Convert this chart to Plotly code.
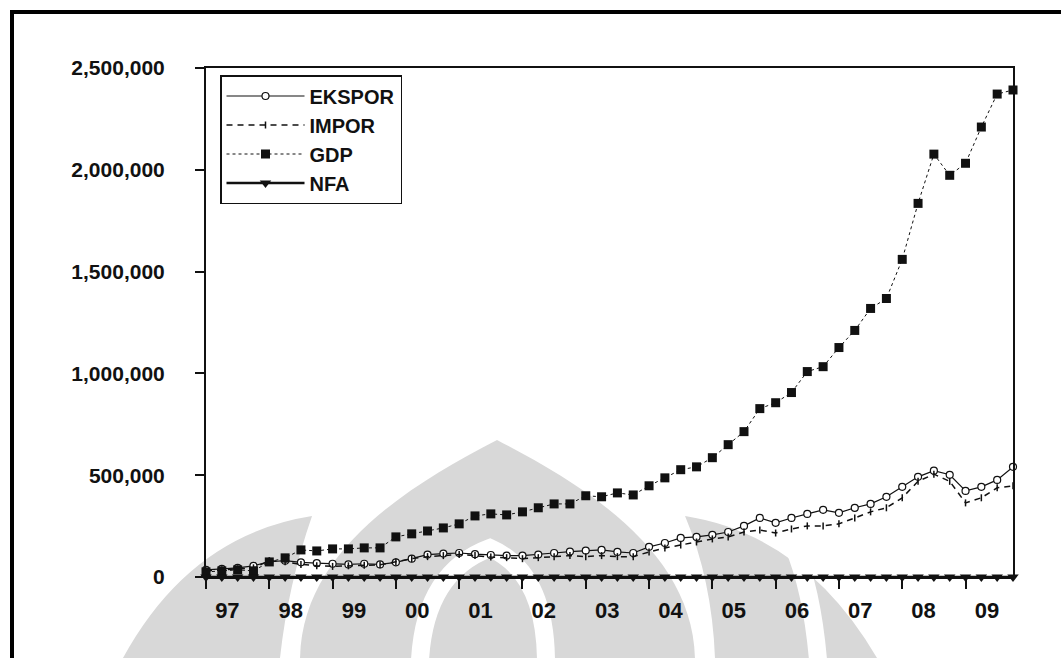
import plotly.graph_objects as go

# ---------------- data (quarterly, 1997Q1 .. 2009Q4) ----------------
years = ["97", "98", "99", "00", "01", "02", "03", "04", "05", "06", "07", "08", "09"]
quarters = list(range(52))

ekspor = [35000, 40000, 45000, 55000,
          75000, 80000, 72000, 68000,
          65000, 62000, 65000, 62000,
          72000, 90000, 110000, 115000,
          118000, 112000, 108000, 105000,
          105000, 110000, 118000, 125000,
          130000, 133000, 123000, 118000,
          148000, 167000, 192000, 197000,
          207000, 221000, 251000, 290000,
          266000, 290000, 310000, 330000,
          315000, 340000, 359000, 394000,
          443000, 492000, 522000, 502000,
          423000, 443000, 477000, 541000]

impor = [30000, 35000, 40000, 45000,
         80000, 75000, 62000, 55000,
         52000, 55000, 58000, 60000,
         75000, 90000, 100000, 105000,
         110000, 105000, 98000, 95000,
         90000, 95000, 100000, 105000,
         100000, 105000, 100000, 100000,
         123000, 143000, 157000, 172000,
         187000, 197000, 221000, 231000,
         216000, 236000, 251000, 251000,
         261000, 290000, 320000, 340000,
         389000, 470000, 505000, 470000,
         364000, 389000, 438000, 448000]

gdp = [25000, 30000, 35000, 30000,
       74000, 94000, 133000, 128000,
       138000, 138000, 143000, 143000,
       197000, 212000, 226000, 241000,
       261000, 300000, 310000, 305000,
       320000, 340000, 359000, 359000,
       399000, 394000, 413000, 403000,
       448000, 487000, 527000, 541000,
       586000, 650000, 714000, 827000,
       856000, 906000, 1009000, 1033000,
       1127000, 1211000, 1319000, 1368000,
       1560000, 1835000, 2077000, 1973000,
       2032000, 2210000, 2372000, 2392000]

nfa = [0, 0, 0, 0, 0, 0, 0, 0, 0, 0, 0, 0, 0,
       0, 0, 0, 0, 0, 0, 0, 0, 0, 0, 0, 0, 0,
       0, 0, 0, 0, 0, 0, 0, 0, 0, 0, 0, 0, 0,
       0, 0, 0, 0, 0, 0, 0, 0, 0, 0, 0, 0, 0]

y_ticks = [0, 500000, 1000000, 1500000, 2000000, 2500000]

# ---------------- figure ----------------
W, H = 1061, 658
L, R, T, B = 206, 48, 68, 81
PW, PH = W - L - R, H - T - B


def pp(X, Y):
    """pixel -> paper coordinates (for page decorations only)"""
    return "%.4f,%.4f" % ((X - L) / PW, (H - B - Y) / PH)


fig = go.Figure()

fig.add_trace(go.Scatter(
    x=quarters, y=ekspor, name="EKSPOR", mode="lines+markers",
    line=dict(color="#111111", width=1.2),
    marker=dict(symbol="circle", size=7, color="white", line=dict(color="#111111", width=1.2)),
    cliponaxis=False))
fig.add_trace(go.Scatter(
    x=quarters, y=impor, name="IMPOR", mode="lines+markers",
    line=dict(color="#111111", width=1.5, dash="6px,5px"),
    marker=dict(symbol="line-ns-open", size=5, color="#111111", line=dict(color="#111111", width=1.5)),
    cliponaxis=False))
fig.add_trace(go.Scatter(
    x=quarters, y=gdp, name="GDP", mode="lines+markers",
    line=dict(color="#111111", width=1, dash="dot"),
    marker=dict(symbol="square", size=9, color="#111111"),
    cliponaxis=False))
fig.add_trace(go.Scatter(
    x=quarters, y=nfa, name="NFA", mode="lines+markers",
    line=dict(color="#111111", width=2.5),
    marker=dict(symbol="triangle-down", size=10, color="#111111"),
    cliponaxis=False))

# watermark of the scanned page (light grey), and the page frame
grey = "#d8d8d8"
shapes = [
    # left wedge
    dict(type="path", path="M " + pp(123, 658) + " Q " + pp(190, 535) + " " + pp(312, 516)
         + " Q " + pp(288, 585) + " " + pp(280, 658) + " Z"),
    # central flame
    dict(type="path", path="M " + pp(300, 658) + " C " + pp(302, 555) + " " + pp(400, 490) + " " + pp(497, 440)
         + " C " + pp(594, 490) + " " + pp(692, 555) + " " + pp(695, 658) + " Z"),
    # right wedge
    dict(type="path", path="M " + pp(685, 516) + " Q " + pp(805, 535) + " " + pp(877, 658)
         + " L " + pp(715, 658) + " Q " + pp(712, 580) + " " + pp(685, 516) + " Z"),
]
shapes = [dict(s, xref="paper", yref="paper", fillcolor=grey, line=dict(width=0), layer="below") for s in shapes]
white_bands = [
    "M " + pp(420, 660) + " Q " + pp(425, 572) + " " + pp(490, 548) + " Q " + pp(545, 572) + " " + pp(546, 660),
    "M " + pp(793, 545) + " Q " + pp(812, 590) + " " + pp(818, 660),
]
for p in white_bands:
    shapes.append(dict(type="path", path=p, xref="paper", yref="paper",
                       line=dict(color="white", width=18), layer="below"))
# page frame
shapes.append(dict(type="rect", xref="paper", yref="paper",
                   x0=(12 - L) / PW, x1=(1075 - L) / PW,
                   y0=(H - B - 680) / PH, y1=(H - B - 12) / PH,
                   line=dict(color="black", width=4), fillcolor="rgba(0,0,0,0)", layer="above"))

fig.update_layout(
    width=W, height=H,
    margin=dict(l=L, r=R, t=T, b=B, pad=0),
    paper_bgcolor="white", plot_bgcolor="white",
    font=dict(family="Liberation Sans, Arial, sans-serif", size=21, color="#111111", weight="bold"),
    showlegend=True,
    legend=dict(x=(220 - L) / PW, y=1 - (75 - T) / PH, xanchor="left", yanchor="top",
                bgcolor="white", bordercolor="#111111", borderwidth=1.5,
                font=dict(size=20, color="#111111", weight="bold"), itemwidth=78, tracegroupgap=0),
    shapes=shapes,
    xaxis=dict(range=[0, 51], tickmode="array",
               tickvals=[4 * i + 1.35 for i in range(len(years))], ticktext=years,
               ticks="", showgrid=False, zeroline=False,
               showline=True, linecolor="#111111", linewidth=2, mirror=True,
               ticklabelstandoff=13, tickfont=dict(size=22, weight="bold"),
               minor=dict(tickmode="array", tickvals=[4 * i for i in range(len(years))],
                          ticks="outside", ticklen=10, tickwidth=2, tickcolor="#111111",
                          showgrid=False)),
    yaxis=dict(range=[0, 2500000], tickmode="array", tickvals=y_ticks, tickformat=",d",
               ticks="outside", ticklen=9, tickwidth=1.5, tickcolor="#111111",
               showgrid=False, zeroline=False,
               showline=True, linecolor="#111111", linewidth=2, mirror=True,
               ticklabelstandoff=26, tickfont=dict(size=21, weight="bold")),
)

fig.write_html("out.html")
